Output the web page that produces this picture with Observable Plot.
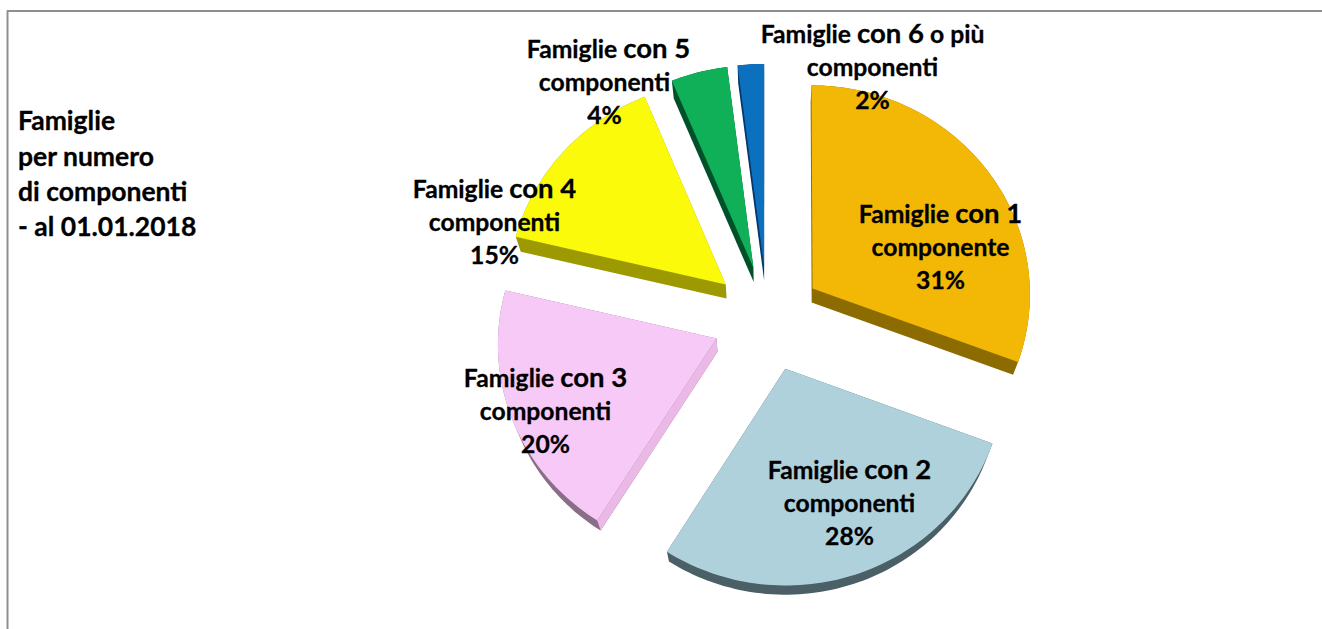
<!DOCTYPE html>
<html>
<head>
<meta charset="utf-8">
<script src="https://cdn.jsdelivr.net/npm/d3@7"></script>
<script src="https://cdn.jsdelivr.net/npm/@observablehq/plot@0.6"></script>
<style>
html,body{margin:0;padding:0;background:#fff}
svg{display:block}
</style>
</head>
<body>
<div id="chart"></div>
<script>
// --- data ---
const sliceHeads = ["Famiglie con 1","Famiglie con 2","Famiglie con 3","Famiglie con 4","Famiglie con 5","Famiglie con 6 o più"];
const sliceTails = ["componente","componenti","componenti","componenti","componenti","componenti"];
const shares = [30.7, 28.2, 19.8, 15.0, 4.3, 2.0];
const titleLines = ["Famiglie","per numero","di componenti","- al 01.01.2018"];

// --- styles ---
const topColors = ["#F3B706","#AFD1DC","#F7C9F7","#FAFA0A","#0FB058","#0B70BE"];
const sideColors = ["#8C6C00","#4B5F66","#8A6E88","#9C9A00","#00512A","#04376A"];
const radialColors = [null,null,"#EBB9E6",null,null,null];

// --- layout (pie projection, chart units centred on the pie) ---
const radius = 218, explode = 55, tiltK = 0.96, persp = 0.000107, bottomShrink = 0.98;
// hand placement of the labels: centre of the first line relative to the pie centre
const labelAnchorX = [173, 82, -222, -273, -159, 105];
const labelAnchorY = [103, -153, -60.5, 128, 268, 283];
const tailShift = [0, 0, 0, 0, -4, 0];
const lineStep = 33;
const titleX = -749.5, titleY = [197, 161, 126, 91];

const project = (u, v) => {
  const f = 1 / (1 + persp * v);
  return [u * f, tiltK * v * f];
};
const depth = v => Math.max(8, 13.5 + 0.016 * v);

const faces = [];
const addFace = (id, pts, fill) => pts.forEach(p => faces.push({face: id, x: p[0], y: p[1], fill}));
let acc = 0;
const total = d3.sum(shares);
shares.forEach((s, i) => {
  const a0 = acc / total * 2 * Math.PI;
  acc += s;
  const a1 = acc / total * 2 * Math.PI;
  const mid = (a0 + a1) / 2;
  const ax = explode * Math.sin(mid), ay = explode * Math.cos(mid);
  const disk = [[ax, ay]];
  const n = Math.max(6, Math.round((a1 - a0) * 40));
  for (let k = 0; k <= n; k++) {
    const t = a0 + (a1 - a0) * k / n;
    disk.push([ax + radius * Math.sin(t), ay + radius * Math.cos(t)]);
  }
  const top = disk.map(([u, v]) => project(u, v));
  const bottom = disk.map(([u, v], k) => [top[k][0] * bottomShrink, top[k][1] - depth(v)]);
  addFace(`side${i}`, d3.polygonHull(top.concat(bottom)), sideColors[i]);
  if (radialColors[i]) {
    addFace(`rad${i}`, [top[0], top[1], bottom[1], bottom[0]], radialColors[i]);
  }
  addFace(`top${i}`, top, topColors[i]);
});

const labels = sliceHeads.flatMap((head, i) => [head, sliceTails[i], `${Math.round(shares[i])}%`].map((text, j) => ({
  text, x: labelAnchorX[i] + (j ? tailShift[i] : 0), y: labelAnchorY[i] - j * lineStep
})));
const titles = titleLines.map((text, i) => ({text, x: titleX, y: titleY[i]}));

const fontFamily = "Lato, 'Noto Sans', sans-serif";

const chart = Plot.plot({
  width: 1322, height: 629,
  margin: 0,
  x: {domain: [-767, 555], range: [0, 1322], axis: null},
  y: {domain: [318, -311], range: [0, 629], axis: null},
  color: {type: "identity"},
  style: {background: "#fff"},
  marks: [
    Plot.ruleX([-760], {y1: -311, y2: 307.5, stroke: "#8F8F8F", strokeWidth: 2}),
    Plot.ruleY([307.5], {x1: -760, x2: 555, stroke: "#8F8F8F", strokeWidth: 2}),
    Plot.line(faces, {x: "x", y: "y", z: "face", fill: "fill", stroke: null, curve: "linear"}),
    Plot.text(labels, {x: "x", y: "y", text: "text", fontSize: 24.7, fontWeight: 700, fontFamily, fill: "#000", stroke: "#000", strokeWidth: 0.3, textAnchor: "middle", lineAnchor: "middle", className: "lab"}),
    Plot.text(titles, {x: "x", y: "y", text: "text", fontSize: 26.5, fontWeight: 700, fontFamily, fill: "#000", stroke: "#000", strokeWidth: 0.3, textAnchor: "start", lineAnchor: "middle"})
  ]
});
// the source sets "con N" one size larger than the rest of the head line
chart.querySelectorAll(".lab text").forEach(el => {
  const m = /^(Famiglie )(con \d)(.*)$/.exec(el.textContent);
  if (!m) return;
  el.textContent = m[1];
  const span = document.createElementNS("http://www.w3.org/2000/svg", "tspan");
  span.setAttribute("font-size", 27.5);
  span.textContent = m[2];
  el.appendChild(span);
  if (m[3]) el.appendChild(document.createTextNode(m[3]));
});
document.getElementById("chart").appendChild(chart);
</script>
</body>
</html>
